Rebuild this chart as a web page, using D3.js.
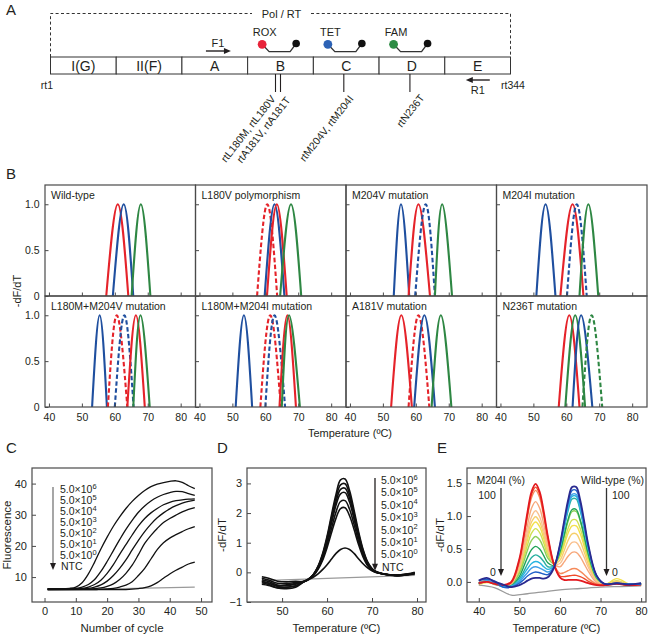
<!DOCTYPE html>
<html><head><meta charset="utf-8">
<script src="https://cdn.jsdelivr.net/npm/d3@7"></script>
<style>body{margin:0;background:#fff}</style>
</head><body>
<svg id="c" width="655" height="636"></svg>
<script>
// ---------------- DATA ----------------
// Panel A
const segments = ["I(G)","II(F)","A","B","C","D","E"];
const probeSegs = ["B","C","D"];
const probeNames = ["ROX","TET","FAM"];
const probeColors = ["#e8243a","#2c62b5","#2e8b45"];
const mutationSegs = ["B","B","C","D"];
const mutationLabels = ["rtL180M, rtL180V","rtA181V, rtA181T","rtM204V, rtM204I","rtN236T"];

// Panel B: titles and peaks [colour, dashed, T left base, T apex, T right base]
const bTitles = ["Wild-type","L180V polymorphism","M204V mutation","M204I mutation",
  "L180M+M204V mutation","L180M+M204I mutation","A181V mutation","N236T mutation"];
const bPeaks = [
  [["R",0,57.4,60.9,64.1],["B",0,59.4,62.7,65.6],["G",0,65.1,67.9,70.8]],
  [["R",1,57.5,60.6,63.6],["B",0,59.8,62.8,65.8],["R",0,60.5,63.5,66.5],["G",0,64.5,67.8,70.9]],
  [["B",0,53.3,55.5,58.0],["R",0,57.8,60.8,64.3],["B",1,59.8,63.0,65.8],["G",0,65.8,68.0,71.0]],
  [["B",0,50.9,53.7,56.7],["R",0,58.2,61.9,65.2],["B",1,60.2,63.2,66.2],["G",0,64.0,66.7,69.7]],
  [["B",0,53.1,55.4,57.6],["R",1,57.9,60.6,63.8],["B",1,60.0,62.9,65.7],["R",0,63.8,66.4,69.1],["G",0,65.6,67.8,70.6]],
  [["B",0,51.0,53.5,56.0],["R",1,58.5,61.5,64.7],["B",1,60.0,62.8,66.0],["R",0,64.3,66.7,69.3],["G",0,65.0,67.2,70.5]],
  [["R",0,52.5,55.6,58.8],["R",1,57.8,60.8,64.1],["B",0,59.5,62.6,65.8],["G",0,64.8,67.6,70.8]],
  [["R",0,57.7,60.9,64.0],["G",0,59.7,62.7,65.7],["B",0,61.9,64.5,67.9],["G",1,64.9,67.7,70.9]]
];
const bColors = {R:"#e5232a", B:"#1f4f9f", G:"#2e8743"};
const bXTicks = [40,50,60,70,80];
const bYTicks = [0,0.5,1.0];

// Panel C: amplification curves
const cCycles = [1,4,8,10,12,14,16,18,20,22,24,26,28,30,32,34,36,38,40,42,44,46,48];
const c1e6 = [6.3,6.3,6.4,6.8,8.2,11,14.8,19,22.8,26.3,29.3,32,34.3,36.2,37.8,39,39.8,40.3,40.7,40.9,40.4,39.3,38.4];
const c1e5 = [6.2,6.2,6.3,6.4,6.8,7.6,9.2,11.8,15,18.5,22,25.3,28.2,30.8,32.8,34.4,35.6,36.5,37.1,37.5,37.4,36.8,36.2];
const c1e4 = [6.2,6.2,6.2,6.3,6.4,6.8,7.6,9,11.2,14,17.3,20.4,23.5,26.4,28.8,30.6,32,33.2,34,34.5,34.8,35,35.1];
const c1e3 = [6.1,6.1,6.1,6.1,6.2,6.4,6.8,7.5,8.7,10.5,12.8,15.5,18.7,21.8,24.6,27,29,30.6,31.9,32.9,33.7,34.3,34.7];
const c1e2 = [6.1,6.1,6.1,6.1,6.1,6.2,6.3,6.5,7,7.8,9.2,11.2,13.8,17.2,20.8,23.4,25.6,27.5,28.8,29.9,30.9,31.7,32.3];
const c1e1 = [6.0,6.0,6.0,6.0,6.0,6.0,6.0,6.1,6.2,6.4,6.8,7.4,8.5,10.5,12.8,15.8,18.8,21,22.5,23.6,24.6,25.5,26.2];
const c1e0 = [6.0,6.0,6.0,6.0,6.0,6.0,6.0,6.0,6.0,6.0,6.0,6.0,6.1,6.3,6.6,7.2,8.2,9.6,11,12.2,13.2,14.2,14.8];
const cNtcCycles = [1,48];
const cNtc = [5.8,6.8];
const legendExps = [6,5,4,3,2,1,0];
const cXTicks = [0,10,20,30,40,50];
const cYTicks = [10,20,30,40];

// Panel D: melting curves of dilution series
const dTemps = [45.5,47,49,51,53,55,56,57,58,59,60,61,62,63,64,65,66,67,68,69,70,71,72,74,76,78,79.5];
const d1e6 = [-0.30,-0.36,-0.48,-0.50,-0.45,-0.30,-0.21,-0.06,0.21,0.63,1.22,1.95,2.64,3.12,3.15,2.76,2.10,1.38,0.78,0.36,0.13,0.02,-0.03,-0.09,-0.10,-0.07,-0.04];
const d1e5 = [-0.35,-0.41,-0.53,-0.55,-0.50,-0.30,-0.21,-0.06,0.19,0.59,1.16,1.85,2.52,2.95,2.99,2.63,2.00,1.31,0.74,0.34,0.12,0.01,-0.04,-0.09,-0.11,-0.08,-0.05];
const d1e4 = [-0.25,-0.31,-0.43,-0.45,-0.40,-0.30,-0.21,-0.07,0.18,0.56,1.10,1.76,2.39,2.80,2.84,2.50,1.90,1.24,0.70,0.32,0.11,0.01,-0.04,-0.08,-0.09,-0.06,-0.02];
const d1e3 = [-0.40,-0.44,-0.52,-0.50,-0.46,-0.30,-0.22,-0.08,0.16,0.52,1.04,1.66,2.27,2.65,2.69,2.37,1.80,1.18,0.66,0.30,0.10,0.00,-0.04,-0.10,-0.12,-0.08,-0.03];
const d1e2 = [-0.20,-0.26,-0.37,-0.38,-0.34,-0.29,-0.22,-0.09,0.13,0.46,0.93,1.49,2.04,2.39,2.42,2.13,1.62,1.05,0.59,0.26,0.08,0.00,-0.04,-0.08,-0.09,-0.05,0.00];
const d1e1 = [-0.32,-0.37,-0.45,-0.42,-0.38,-0.31,-0.23,-0.11,0.10,0.40,0.83,1.34,1.83,2.15,2.18,1.91,1.45,0.94,0.52,0.23,0.07,-0.01,-0.04,-0.09,-0.10,-0.06,-0.02];
const d1e0 = [-0.15,-0.20,-0.30,-0.32,-0.30,-0.31,-0.24,-0.16,-0.05,0.09,0.26,0.45,0.64,0.77,0.82,0.77,0.64,0.46,0.29,0.15,0.05,0.00,-0.03,-0.09,-0.10,-0.07,-0.04];
const dNtcTemps = [45.5,79.5];
const dNtc = [-0.28,-0.10];
const dXTicks = [50,60,70,80];
const dYTicks = [-1,0,1,2,3];

// Panel E: mixtures M204I / wild-type (100% M204I -> 0% M204I)
const eTemps = [40,42,44,46,48,50,51,52,53,54,55,56,57,58.5,60,61,62,63,64,65,66,67,69,71,74,77,80];
const eCurves = [
  [-0.02,0.00,-0.03,-0.05,0.00,0.35,0.68,1.06,1.37,1.49,1.37,1.07,0.70,0.27,0.07,0.03,0.03,0.03,0.03,0.02,0.00,-0.02,-0.05,-0.05,-0.03,-0.05,-0.04],
  [-0.03,0.01,-0.02,-0.05,-0.01,0.33,0.66,1.02,1.33,1.44,1.33,1.03,0.68,0.27,0.09,0.08,0.09,0.10,0.10,0.08,0.05,0.01,-0.04,-0.05,-0.02,-0.05,-0.03],
  [-0.01,0.02,-0.03,-0.05,-0.01,0.32,0.63,0.99,1.28,1.39,1.28,1.00,0.66,0.27,0.13,0.14,0.17,0.20,0.20,0.16,0.11,0.05,-0.03,-0.05,-0.03,-0.04,-0.05],
  [-0.02,0.01,-0.04,-0.05,-0.02,0.27,0.55,0.86,1.12,1.22,1.12,0.88,0.59,0.28,0.23,0.30,0.39,0.45,0.45,0.38,0.27,0.16,-0.01,-0.04,-0.02,-0.05,-0.03],
  [-0.03,0.00,-0.03,-0.06,-0.03,0.23,0.48,0.76,0.99,1.08,0.99,0.78,0.53,0.28,0.28,0.39,0.52,0.60,0.60,0.51,0.37,0.22,0.01,-0.04,-0.03,-0.04,-0.04],
  [-0.02,0.00,-0.02,-0.05,-0.03,0.21,0.44,0.70,0.91,0.99,0.91,0.72,0.49,0.28,0.33,0.47,0.63,0.73,0.73,0.62,0.45,0.27,0.02,-0.04,0.01,-0.04,-0.03],
  [-0.04,-0.01,-0.03,-0.05,-0.04,0.19,0.40,0.64,0.84,0.91,0.84,0.66,0.46,0.28,0.38,0.55,0.74,0.85,0.85,0.73,0.53,0.32,0.04,-0.04,0.05,-0.03,-0.05],
  [-0.02,0.01,-0.03,-0.06,-0.04,0.16,0.35,0.56,0.74,0.81,0.75,0.59,0.41,0.28,0.41,0.60,0.81,0.94,0.94,0.81,0.59,0.36,0.05,-0.03,0.02,-0.04,-0.03],
  [-0.03,0.00,-0.04,-0.06,-0.05,0.13,0.29,0.48,0.63,0.69,0.64,0.51,0.36,0.28,0.45,0.68,0.92,1.07,1.07,0.92,0.67,0.41,0.06,-0.03,-0.02,-0.05,-0.04],
  [-0.02,0.01,-0.03,-0.07,-0.06,0.08,0.22,0.37,0.49,0.54,0.50,0.40,0.29,0.25,0.46,0.70,0.95,1.10,1.10,0.94,0.69,0.42,0.07,-0.03,-0.03,-0.04,-0.03],
  [-0.01,0.02,-0.02,-0.07,-0.06,0.05,0.15,0.27,0.37,0.41,0.38,0.31,0.23,0.25,0.51,0.80,1.08,1.26,1.26,1.08,0.79,0.49,0.08,-0.03,-0.02,-0.05,-0.02],
  [-0.02,0.01,-0.03,-0.07,-0.07,0.02,0.11,0.20,0.28,0.31,0.29,0.23,0.19,0.24,0.52,0.82,1.11,1.30,1.30,1.11,0.81,0.50,0.09,-0.03,-0.03,-0.03,-0.04],
  [-0.03,0.02,-0.02,-0.08,-0.07,0.00,0.07,0.14,0.21,0.23,0.21,0.18,0.15,0.23,0.54,0.84,1.15,1.33,1.33,1.14,0.84,0.52,0.09,-0.03,-0.02,-0.04,-0.03],
  [0.02,0.04,0.01,-0.08,-0.08,-0.02,0.03,0.09,0.13,0.15,0.14,0.12,0.11,0.22,0.56,0.88,1.20,1.39,1.39,1.20,0.88,0.54,0.10,-0.03,-0.02,-0.03,-0.04],
  [0.02,0.06,0.00,-0.04,-0.08,-0.05,-0.02,0.02,0.05,0.06,0.06,0.05,0.07,0.21,0.57,0.91,1.24,1.44,1.44,1.24,0.91,0.56,0.10,-0.03,-0.02,-0.04,-0.02]
];
const eColors = ["#e3191f","#ef4a2a","#f58a5a","#f7a77a","#f9c08e","#f6cf6a","#f3e04a","#cfe052","#8fcf5a","#1fa356","#2bb0a0","#27b4e0","#3f9fe8","#1f5fc8","#2a2a90"];
const eNtcTemps = [40,44,48,52,56,60,65,70,75,80];
const eNtc = [-0.05,-0.09,-0.20,-0.18,-0.15,-0.12,-0.10,-0.08,-0.07,-0.06];
const eXTicks = [40,50,60,70,80];
const eYTicks = [0,0.5,1.0,1.5];

// ---------------- DRAWING ----------------
const FONT = "'Liberation Sans', Arial, Helvetica, sans-serif";
const INK = "#231f20";
const FRAME = "#4a4a4a";
const svg = d3.select("#c").attr("font-family", FONT).attr("fill", INK);
const defs = svg.append("defs");
let clipId = 0;
function clip(x, y, w, h) {
  const id = "clip" + (clipId++);
  defs.append("clipPath").attr("id", id).append("rect").attr("x", x).attr("y", y).attr("width", w).attr("height", h);
  return "url(#" + id + ")";
}
function styleAxis(sel, fs) {
  sel.select(".domain").remove();
  sel.selectAll("line").attr("stroke", FRAME).attr("stroke-width", 1);
  sel.selectAll("text").attr("font-size", fs).attr("fill", INK).attr("font-family", FONT);
}
function panelLabel(t, x, y) {
  svg.append("text").attr("x", x).attr("y", y).attr("font-size", 15).text(t);
}
function arrowDown(g, x, y0, y1, col) {
  g.append("line").attr("x1", x).attr("x2", x).attr("y1", y0).attr("y2", y1 - 5).attr("stroke", col).attr("stroke-width", 1.3);
  g.append("path").attr("d", `M${x-3},${y1-7} L${x+3},${y1-7} L${x},${y1} Z`).attr("fill", INK);
}

// ---- Panel A ----
panelLabel("A", 6, 15);
const gA = svg.append("g");
const xSeg = d3.scaleBand().domain(segments).range([50.5, 510.5]);
const bw = xSeg.bandwidth();
const barTop = 57, barBot = 74;
gA.append("path").attr("d", `M50.5,${barTop} V13.5 H252 M311,13.5 H510.5 V${barTop}`)
  .attr("fill", "none").attr("stroke", "#333").attr("stroke-width", 1).attr("stroke-dasharray", "3,2.4");
gA.append("text").attr("x", 281.5).attr("y", 17.5).attr("text-anchor", "middle").attr("font-size", 11).text("Pol / RT");
segments.forEach(s => {
  gA.append("rect").attr("x", xSeg(s)).attr("y", barTop).attr("width", bw).attr("height", barBot - barTop)
    .attr("fill", "#fff").attr("stroke", "#333").attr("stroke-width", 1);
  gA.append("text").attr("x", xSeg(s) + bw / 2).attr("y", barBot - 3).attr("text-anchor", "middle")
    .attr("font-size", 14).text(s);
});
// F1 primer
{
  const a0 = xSeg("A") + 24, a1 = xSeg("A") + 49, ay = 51;
  gA.append("line").attr("x1", a0).attr("x2", a1 - 5).attr("y1", ay).attr("y2", ay).attr("stroke", INK).attr("stroke-width", 1.4);
  gA.append("path").attr("d", `M${a1},${ay} L${a1-7},${ay-3} L${a1-7},${ay+3} Z`).attr("fill", INK);
  gA.append("text").attr("x", xSeg("A") + 36).attr("y", 47).attr("text-anchor", "middle").attr("font-size", 11).text("F1");
}
// R1 primer
{
  const a0 = xSeg("E") + 45, a1 = xSeg("E") + 21, ay = 80;
  gA.append("line").attr("x1", a0).attr("x2", a1 + 5).attr("y1", ay).attr("y2", ay).attr("stroke", INK).attr("stroke-width", 1.4);
  gA.append("path").attr("d", `M${a1},${ay} L${a1+7},${ay-3} L${a1+7},${ay+3} Z`).attr("fill", INK);
  gA.append("text").attr("x", xSeg("E") + 33).attr("y", 94).attr("text-anchor", "middle").attr("font-size", 11).text("R1");
}
gA.append("text").attr("x", 47).attr("y", 89).attr("text-anchor", "middle").attr("font-size", 10.5).text("rt1");
gA.append("text").attr("x", 513).attr("y", 89).attr("text-anchor", "middle").attr("font-size", 10.5).text("rt344");
// probes
probeSegs.forEach((s, i) => {
  const s0 = xSeg(s);
  const cx = s0 + 14.5, bx = s0 + 48.5;
  gA.append("path").attr("d", `M${cx},44.3 L${s0+21.5},51.7 H${s0+42.5} L${bx},43.5`)
    .attr("fill", "none").attr("stroke", "#333").attr("stroke-width", 1.3);
  gA.append("circle").attr("cx", cx).attr("cy", 44.3).attr("r", 4.4).attr("fill", probeColors[i]);
  gA.append("circle").attr("cx", bx).attr("cy", 43.5).attr("r", 3.8).attr("fill", "#111");
  gA.append("text").attr("x", s0 + 17).attr("y", 36).attr("text-anchor", "middle").attr("font-size", 11).text(probeNames[i]);
});
// mutation lines
const mutLineX = [xSeg("B") + bw / 2 - 5, xSeg("B") + bw / 2, xSeg("C") + bw / 2 - 2.4, xSeg("D") + bw / 2 - 2];
mutLineX.forEach(x => gA.append("line").attr("x1", x).attr("x2", x).attr("y1", barBot).attr("y2", 92)
  .attr("stroke", INK).attr("stroke-width", 1.1));
const mutAnchor = [[276, 99], [291, 100.5], [354, 99], [425, 98]];
mutationLabels.forEach((t, i) => {
  gA.append("text").attr("text-anchor", "end").attr("font-size", 10.5)
    .attr("transform", `translate(${mutAnchor[i][0]},${mutAnchor[i][1]}) rotate(-52)`).text(t);
});

// ---- Panel B ----
panelLabel("B", 6, 179);
const gB = svg.append("g");
const bLeft = 45, bTop = 185, cellW = 150.5, cellH = 111;
bTitles.forEach((title, i) => {
  const col = i % 4, row = Math.floor(i / 4);
  const L = bLeft + col * cellW, T = bTop + row * cellH;
  const x = d3.scaleLinear().domain([38.8, 84.5]).range([L, L + cellW]);
  const y = d3.scaleLinear().domain([0, 1.21]).range([T + cellH, T]);
  const g = gB.append("g");
  const line = d3.line().x(d => x(d[0])).y(d => y(d[1])).curve(d3.curveNatural);
  const gl = g.append("g").attr("clip-path", clip(L, T, cellW, cellH));
  bPeaks[i].forEach(p => {
    gl.append("path").datum([[p[2], 0], [p[3], 1], [p[4], 0]]).attr("d", line)
      .attr("fill", "none").attr("stroke", bColors[p[0]]).attr("stroke-width", 2.1)
      .attr("stroke-dasharray", p[1] ? "4.5,2.5" : null);
  });
  const ax = g.append("g").attr("transform", `translate(0,${T + cellH})`)
    .call(d3.axisBottom(x).tickValues(bXTicks).tickSizeInner(-3.5).tickSizeOuter(0).tickPadding(6.5)
      .tickFormat(row === 1 ? d3.format("d") : () => ""));
  styleAxis(ax, 10.5);
  const ay = g.append("g").attr("transform", `translate(${L},0)`)
    .call(d3.axisLeft(y).tickValues(bYTicks).tickSizeInner(-3.5).tickSizeOuter(0).tickPadding(5.5)
      .tickFormat(col === 0 ? (v => v === 0 ? "0" : d3.format(".1f")(v)) : () => ""));
  styleAxis(ay, 10.5);
  g.append("rect").attr("x", L).attr("y", T).attr("width", cellW).attr("height", cellH)
    .attr("fill", "none").attr("stroke", FRAME).attr("stroke-width", 1.2);
  g.append("text").attr("x", L + 6).attr("y", T + 14).attr("font-size", 10.5).text(title);
});
gB.append("text").attr("transform", "translate(17,291) rotate(-90)").attr("text-anchor", "middle")
  .attr("dy", "0.35em").attr("font-size", 11).text("-dF/dT");
gB.append("text").attr("x", 350).attr("y", 437).attr("text-anchor", "middle").attr("font-size", 11).text("Temperature (ºC)");

// ---- helper for C/D/E ----
function framedPanel(x, y, xTicks, yTicks, yFmt, xTitle, yTitle, yTitleX) {
  const g = svg.append("g");
  const [x0, x1] = x.range(), [y1, y0] = y.range();
  const ax = g.append("g").attr("transform", `translate(0,${y1})`)
    .call(d3.axisBottom(x).tickValues(xTicks).tickSizeInner(-4).tickSizeOuter(0).tickPadding(5.5).tickFormat(d3.format("d")));
  styleAxis(ax, 11);
  const ay = g.append("g").attr("transform", `translate(${x0},0)`)
    .call(d3.axisLeft(y).tickValues(yTicks).tickSizeInner(-4).tickSizeOuter(0).tickPadding(5).tickFormat(yFmt));
  styleAxis(ay, 11);
  g.append("text").attr("x", (x0 + x1) / 2).attr("y", 632).attr("text-anchor", "middle").attr("font-size", 11.5).text(xTitle);
  g.append("text").attr("transform", `translate(${yTitleX},${(y0 + y1) / 2}) rotate(-90)`).attr("text-anchor", "middle")
    .attr("dy", "0.35em").attr("font-size", 11.5).text(yTitle);
  const gl = g.append("g").attr("clip-path", clip(x0, y0, x1 - x0, y1 - y0));
  g.append("rect").attr("x", x0).attr("y", y0).attr("width", x1 - x0).attr("height", y1 - y0)
    .attr("fill", "none").attr("stroke", FRAME).attr("stroke-width", 1.2);
  return {g, gl};
}
function legendBlock(g, x0, yb, step, arrowX, arrowCol) {
  legendExps.forEach((e, i) => {
    const t = g.append("text").attr("x", x0).attr("y", yb + i * step).attr("font-size", 10.5);
    t.append("tspan").text("5.0×10");
    t.append("tspan").attr("dy", -4.5).attr("font-size", 7.5).text(e);
  });
  g.append("text").attr("x", x0 + 1).attr("y", yb + 7 * step).attr("font-size", 10.5).text("NTC");
  arrowDown(g, arrowX, yb - 6, yb + 7 * step, arrowCol);
}

// ---- Panel C ----
panelLabel("C", 6, 453);
{
  const x = d3.scaleLinear().domain([-4, 53.5]).range([32, 212]);
  const y = d3.scaleLinear().domain([2, 45]).range([602, 468]);
  const {g, gl} = framedPanel(x, y, cXTicks, cYTicks, d3.format("d"), "Number of cycle", "Fluorescence", 7);
  const line = d3.line().x(d => x(d[0])).y(d => y(d[1])).curve(d3.curveCatmullRom);
  gl.append("path").datum(cNtcCycles.map((c, i) => [c, cNtc[i]])).attr("d", line)
    .attr("fill", "none").attr("stroke", "#9a9a9a").attr("stroke-width", 1.3);
  [c1e0, c1e1, c1e2, c1e3, c1e4, c1e5, c1e6].forEach(s => {
    gl.append("path").datum(cCycles.map((c, i) => [c, s[i]])).attr("d", line)
      .attr("fill", "none").attr("stroke", "#111").attr("stroke-width", 1.3);
  });
  legendBlock(g, 60, 493, 11, 53, "#777");
}

// ---- Panel D ----
panelLabel("D", 217, 453);
{
  const x = d3.scaleLinear().domain([42.2, 82]).range([247, 426]);
  const y = d3.scaleLinear().domain([-1, 3.52]).range([602, 468]);
  const {g, gl} = framedPanel(x, y, dXTicks, dYTicks, d3.format("d"), "Temperature (ºC)", "-dF/dT", 222);
  const line = d3.line().x(d => x(d[0])).y(d => y(d[1])).curve(d3.curveCatmullRom);
  gl.append("path").datum(dNtcTemps.map((t, i) => [t, dNtc[i]])).attr("d", line)
    .attr("fill", "none").attr("stroke", "#9a9a9a").attr("stroke-width", 1.3);
  [d1e0, d1e1, d1e2, d1e3, d1e4, d1e5, d1e6].forEach(s => {
    gl.append("path").datum(dTemps.map((t, i) => [t, s[i]])).attr("d", line)
      .attr("fill", "none").attr("stroke", "#111").attr("stroke-width", 1.6);
  });
  legendBlock(g, 381, 484, 12.4, 375, INK);
}

// ---- Panel E ----
panelLabel("E", 437, 453);
{
  const x = d3.scaleLinear().domain([37.1, 81.2]).range([467, 646]);
  const y = d3.scaleLinear().domain([-0.305, 1.73]).range([602, 468]);
  const {g, gl} = framedPanel(x, y, eXTicks, eYTicks, d3.format(".1f"), "Temperature (ºC)", "-dF/dT", 440);
  const line = d3.line().x(d => x(d[0])).y(d => y(d[1])).curve(d3.curveCatmullRom);
  gl.append("path").datum(eNtcTemps.map((t, i) => [t, eNtc[i]])).attr("d", line)
    .attr("fill", "none").attr("stroke", "#9a9a9a").attr("stroke-width", 1.3);
  const order = [6, 7, 5, 8, 4, 9, 3, 10, 2, 11, 1, 12, 0, 13, 14];
  order.forEach(k => {
    gl.append("path").datum(eTemps.map((t, i) => [t, eCurves[k][i]])).attr("d", line)
      .attr("fill", "none").attr("stroke", eColors[k]).attr("stroke-width", (k === 0 || k === 14) ? 1.8 : 1.4);
  });
  g.append("text").attr("x", 476.5).attr("y", 484).attr("font-size", 10.5).text("M204I (%)");
  g.append("text").attr("x", 487).attr("y", 499).attr("text-anchor", "middle").attr("font-size", 10.5).text("100");
  g.append("text").attr("x", 493).attr("y", 575.5).attr("text-anchor", "middle").attr("font-size", 10.5).text("0");
  arrowDown(g, 501, 488, 576, "#333");
  g.append("text").attr("x", 581).attr("y", 484).attr("font-size", 10.5).text("Wild-type (%)");
  g.append("text").attr("x", 612).attr("y", 499).attr("font-size", 10.5).text("100");
  g.append("text").attr("x", 612).attr("y", 575.5).attr("font-size", 10.5).text("0");
  arrowDown(g, 606.5, 488, 576, "#333");
}
</script>
</body></html>
